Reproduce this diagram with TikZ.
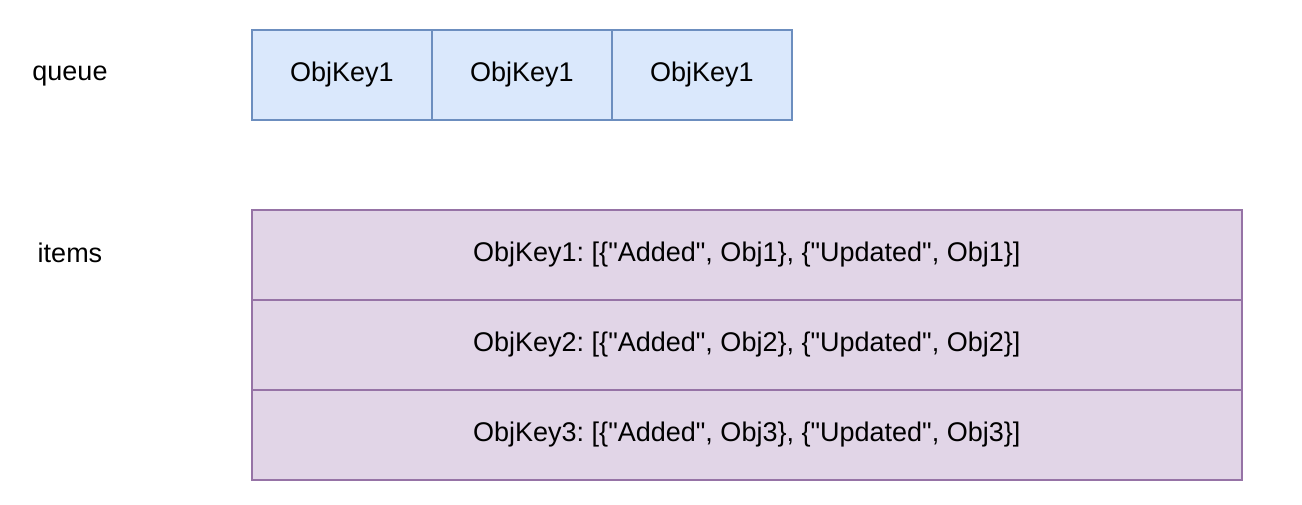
\documentclass[tikz,border=0pt]{standalone}
\usepackage{fontspec}
\setmainfont{Liberation Sans}
\definecolor{bfill}{HTML}{DAE8FC}
\definecolor{bdraw}{HTML}{6C8EBF}
\definecolor{pfill}{HTML}{E1D5E7}
\definecolor{pdraw}{HTML}{9673A6}
\newcommand{\qd}{\textquotedbl}
\frenchspacing
\begin{document}
\begin{tikzpicture}[x=1pt,y=-1pt,
  cell/.style={draw=bdraw,fill=bfill,line width=1.6pt,minimum width=180pt,minimum height=90pt,inner sep=0pt,anchor=north west,font=\fontsize{27}{32}\selectfont},
  row/.style={draw=pdraw,fill=pfill,line width=1.6pt,minimum width=990pt,minimum height=90pt,inner sep=0pt,anchor=north west,font=\fontsize{27}{32}\selectfont},
  lbl/.style={inner sep=0pt,font=\fontsize{27}{32}\selectfont}]
\useasboundingbox (0,0) rectangle (1302,504);
\node[lbl] (q) at (70,76.5) {queue};
\node[lbl] (it) at (70,253) {items};
\node[cell] (c1) at (251,29) {ObjKey1};
\node[cell] (c2) at (431,29) {ObjKey1};
\node[cell] (c3) at (611,29) {ObjKey1};
\node[row] (r1) at (251,209) {ObjKey1: [\{\qd Added\qd, Obj1\}, \{\qd Updated\qd, Obj1\}]};
\node[row] (r2) at (251,299) {ObjKey2: [\{\qd Added\qd, Obj2\}, \{\qd Updated\qd, Obj2\}]};
\node[row] (r3) at (251,389) {ObjKey3: [\{\qd Added\qd, Obj3\}, \{\qd Updated\qd, Obj3\}]};
\end{tikzpicture}
\end{document}
